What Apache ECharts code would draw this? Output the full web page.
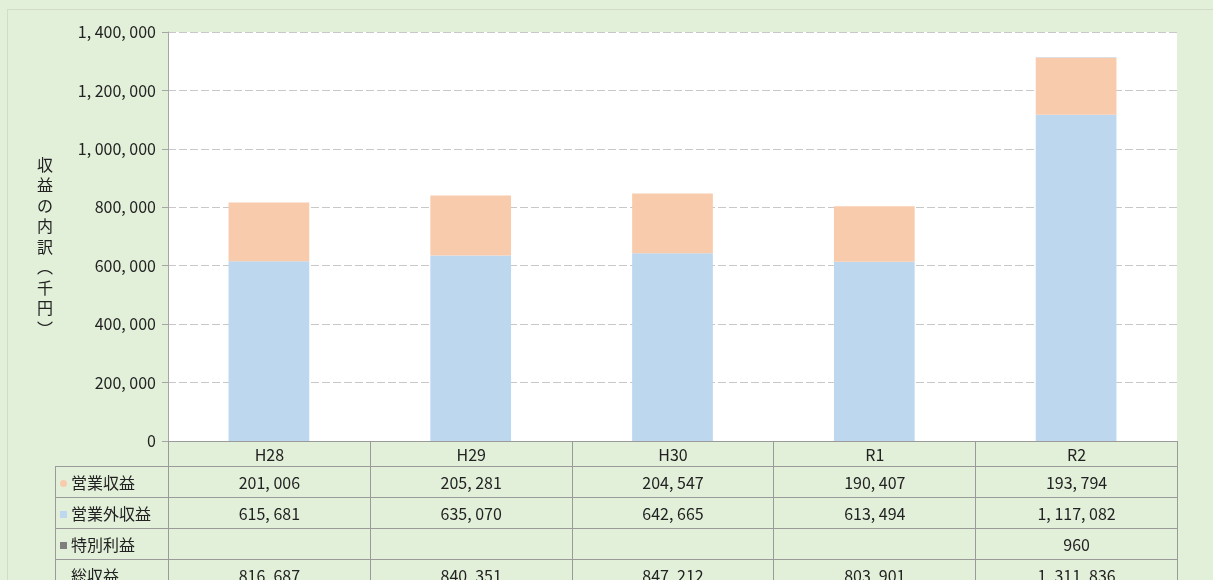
<!DOCTYPE html>
<html>
<head>
<meta charset="utf-8">
<script src="https://cdn.jsdelivr.net/npm/echarts@6/dist/echarts.min.js"></script>
<style>
  body { margin:0; background:#e2efd9; font-family:"Noto Sans CJK JP", sans-serif; }
  #frame { position:absolute; left:7px; top:9px; width:1220px; height:600px; border:1px solid #d2dcc9; box-sizing:border-box; }
  #chart { position:absolute; left:0; top:0; width:1213px; height:580px; }
  #tbl { position:absolute; left:55px; top:441px; border-collapse:collapse; table-layout:fixed; color:#222; }
  #tbl td { border:1px solid #9a9a9a; padding:0; text-align:center; font-size:16px; height:30px; white-space:nowrap; overflow:hidden; }
  #tbl tr.head td { height:23px; }
  #tbl td.lbl { text-align:left; font-size:16px; padding-left:4px; }
  #tbl td.empty { border:none; }
  .mk { display:inline-block; width:7px; height:7px; margin-right:4px; vertical-align:2px; }
</style>
</head>
<body>
<div id="frame"></div>
<div id="chart"></div>
<table id="tbl"></table>
<script>
// years (categories)
var years = ['H28', 'H29', 'H30', 'R1', 'R2'];
// 営業収益
var eigyo = [201006, 205281, 204547, 190407, 193794];
// 営業外収益
var eigyoGai = [615681, 635070, 642665, 613494, 1117082];
// 特別利益
var tokubetsu = [null, null, null, null, 960];
// 総収益
var total = [816687, 840351, 847212, 803901, 1311836];

var colEigyo = '#f8cbad', colGai = '#bdd7ee', colToku = '#7f7f7f';

function fmt(v) {
   if (v == null) return '';
   return v.toLocaleString('en-US').replace(/,/g, ', ');
}

var chart = echarts.init(document.getElementById('chart'));
var option = {
   animation: false,
   textStyle: { fontFamily: '"Noto Sans CJK JP", sans-serif' },
   grid: { left: 168, right: 36, top: 32, bottom: 139, show: true, backgroundColor: '#fff', borderWidth: 0 },
   xAxis: {
      type: 'category',
      data: years,
      axisLine: { show: false },
      axisTick: { show: false },
      axisLabel: { show: false }
   },
   yAxis: {
      type: 'value',
      min: 0, max: 1400000, interval: 200000,
      // leading blank line pushes the vertical title a little lower
      name: '\n収\n益\nの\n内\n訳\n︵\n千\n円\n︶',
      nameLocation: 'middle',
      nameRotate: 0,
      nameGap: 115,
      nameTextStyle: { fontSize: 16, color: '#222', lineHeight: 20.5 },
      axisLine: { show: true, lineStyle: { color: '#a6a6a6' } },
      axisTick: { show: true, length: 6, lineStyle: { color: '#a6a6a6' } },
      axisLabel: { fontSize: 16, color: '#222', margin: 12, formatter: function (v) { return fmt(v); } },
      splitLine: { lineStyle: { color: '#c8c8c8', type: [8, 3] } }
   },
   series: [
      { name: '営業外収益', type: 'bar', stack: 'a', barWidth: '40%', data: eigyoGai, itemStyle: { color: colGai } },
      { name: '営業収益', type: 'bar', stack: 'a', data: eigyo, itemStyle: { color: colEigyo } },
      { name: '特別利益', type: 'bar', stack: 'a', data: tokubetsu, itemStyle: { color: colToku } }
   ]
};
chart.setOption(option);

// data table under the plot
var rows = [
   { label: '営業収益', color: colEigyo, vals: eigyo, mk: 'round' },
   { label: '営業外収益', color: colGai, vals: eigyoGai, mk: 'sq' },
   { label: '特別利益', color: colToku, vals: tokubetsu, mk: 'sq' },
   { label: '総収益', color: null, vals: total }
];
var colW = (1213 - 168 - 36) / years.length;
var html = '<colgroup><col style="width:113px">';
years.forEach(function () { html += '<col style="width:' + colW + 'px">'; });
html += '</colgroup><tr class="head"><td class="empty"></td>';
years.forEach(function (y) { html += '<td>' + y + '</td>'; });
html += '</tr>';
rows.forEach(function (r) {
   var mk = r.color ? '<span class="mk" style="background:' + r.color + (r.mk == 'round' ? ';border-radius:4px' : '') + '"></span>' : '<span class="mk"></span>';
   html += '<tr><td class="lbl">' + mk + r.label + '</td>';
   r.vals.forEach(function (v) { html += '<td>' + fmt(v) + '</td>'; });
   html += '</tr>';
});
document.getElementById('tbl').innerHTML = html;
</script>
</body>
</html>
